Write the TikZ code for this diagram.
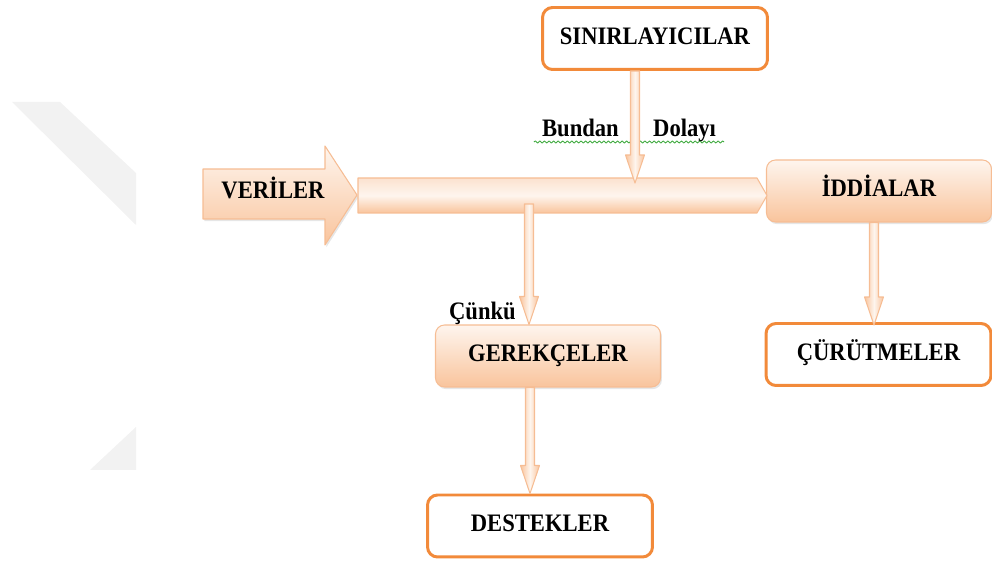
\documentclass[tikz,border=0pt]{standalone}
\usepackage{fontspec}
\setmainfont{Liberation Serif}[FakeStretch=0.9]
\usepackage{tikz}
\usetikzlibrary{calc, shadows, decorations.pathmorphing}

\definecolor{arancio}{HTML}{F28A3A}
\definecolor{pescaT}{HTML}{FEF5EE}
\definecolor{pescaM}{HTML}{FCE2CF}
\definecolor{pescaB}{HTML}{F9C49C}
\definecolor{pescaL}{HTML}{F6BD94}
\definecolor{filigrana}{HTML}{F2F2F2}
\definecolor{ondina}{HTML}{3FAA3F}

\tikzset{
  testo/.style={font=\bfseries\fontsize{14.3}{17}\selectfont, text height=0.66em, text depth=0pt},
  riquadro/.style={testo, draw=arancio, line width=1.7pt, fill=white, rounded corners=0.2cm,
    minimum width=4.5cm, minimum height=1.24cm},
  pesca/.style={testo, draw=pescaL, line width=0.6pt, top color=pescaT, bottom color=pescaB,
    rounded corners=0.18cm, minimum width=4.5cm, minimum height=1.24cm,
    drop shadow={opacity=0.2, shadow xshift=0.8pt, shadow yshift=-1.2pt}},
  freccia/.style={draw=pescaL, line width=0.6pt, left color=pescaB, right color=pescaB, middle color=pescaT},
}

\begin{document}
\begin{tikzpicture}[x=0.02cm, y=-0.02cm, line join=round]

\useasboundingbox (0,0) rectangle (992,563);

% filigrana di sfondo
\fill[filigrana] (12,102) -- (60,102) -- (136,173) -- (136,225) -- cycle;
\fill[filigrana] (136,427) -- (136,470) -- (90,470) -- cycle;

% riquadri
\node[riquadro] (sin) at (655,38.5) {SINIRLAYICILAR};
\node[pesca]    (idd) at (879,191)  {İDDİALAR};
\node[pesca]    (ger) at (548,356)  {GEREKÇELER};
\node[riquadro] (des) at (540,526)  {DESTEKLER};
\node[riquadro] (cur) at (878.5,354.5) {ÇÜRÜTMELER};

% freccia dei dati
\draw[pescaL, line width=0.6pt, top color=pescaT, bottom color=pescaB,
  drop shadow={opacity=0.2, shadow xshift=0.8pt, shadow yshift=-1.2pt}]
  (203,169) -- (325,169) -- (325,146) -- (357,195) -- (325,245) -- (325,219) -- (203,219) -- cycle;
\node[testo] (ver) at (273,193) {VERİLER};

% barra orizzontale
\draw[pescaL, line width=0.6pt, top color=pescaM, bottom color=pescaB, middle color=pescaT]
  (358,178) -- (757,178) -- (767,195.5) -- (757,213) -- (358,213) -- cycle;

% etichette
\node[testo, anchor=base east] (bundan) at (625,137) {Bundan};
\node[testo, anchor=base west] (dolayi) at (647,137) {Dolayı};
\draw[ondina, line width=0.5pt, decorate, decoration={snake, amplitude=0.6pt, segment length=2.6pt}]
  ($(bundan.base west)+(-2,5)$) -- ($(dolayi.base east)+(2,5)$);
\node[testo, anchor=base east] (cunku) at (522,320) {Çünkü};

% estremi delle frecce
\coordinate (f1a) at (sin.south -| 635,0);
\coordinate (f1b) at (635,183);
\coordinate (f2a) at (529,204);
\coordinate (f2b) at (ger.north -| 529,0);
\coordinate (f3a) at (ger.south -| 530,0);
\coordinate (f3b) at (des.north -| 530,0);
\coordinate (f4a) at (idd.south -| 874,0);
\coordinate (f4b) at ($(cur.north -| 874,0)+(0,3)$);

% frecce verticali
\foreach \p/\q in {f1a/f1b, f2a/f2b, f3a/f3b, f4a/f4b}
  \draw[freccia] ($(\p)+(-4.5,0)$) -- ($(\q)+(-4.5,-28)$) -- ($(\q)+(-9.5,-28)$) -- (\q)
    -- ($(\q)+(9.5,-28)$) -- ($(\q)+(4.5,-28)$) -- ($(\p)+(4.5,0)$) -- cycle;

\end{tikzpicture}
\end{document}
